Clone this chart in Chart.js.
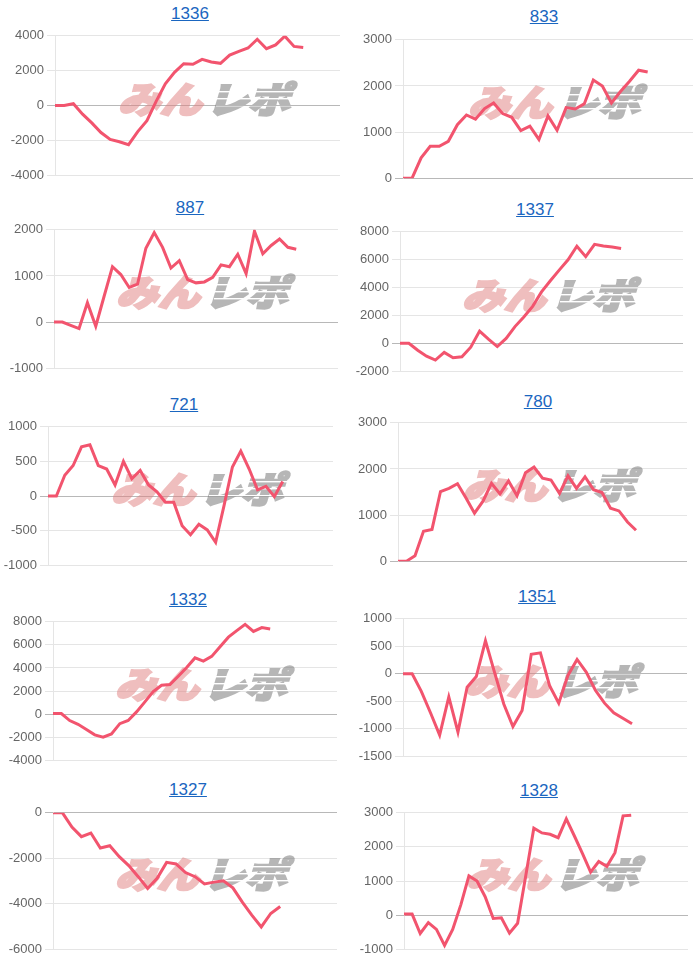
<!DOCTYPE html>
<html>
<head>
<meta charset="utf-8">
<script src="https://cdn.jsdelivr.net/npm/chart.js@4.4.1/dist/chart.umd.min.js"></script>
<style>
  body { margin: 0; background: #fff; width: 700px; height: 968px; overflow: hidden; position: relative;
         font-family: "Liberation Sans", Arial, sans-serif; }
  .ttl { position: absolute; transform: translate(-50%, -50%); color: #1a66c0; text-decoration: underline;
         font-size: 17px; white-space: nowrap; }
  canvas { position: absolute; }
</style>
</head>
<body>
<script>
const titles = ['1336', '833', '887', '1337', '721', '780', '1332', '1351', '1327', '1328'];

const s1336 = [0, 0, 100, -500, -1000, -1550, -1950, -2080, -2250, -1500, -870, 240, 1250, 1900, 2400, 2370, 2650, 2500, 2420, 2890, 3110, 3300, 3800, 3260, 3480, 3980, 3390, 3330];
const s833 = [0, 0, 440, 690, 690, 800, 1160, 1370, 1280, 1510, 1630, 1400, 1320, 1030, 1130, 840, 1350, 1040, 1530, 1500, 1610, 2130, 2000, 1630, 1880, 2100, 2340, 2300];
const s887 = [0, 0, -70, -140, 420, -90, 560, 1200, 1030, 750, 820, 1600, 1940, 1620, 1170, 1330, 920, 850, 870, 970, 1240, 1200, 1470, 1050, 1970, 1480, 1660, 1800, 1620, 1580];
const s1337 = [0, 0, -500, -920, -1200, -650, -1040, -970, -280, 880, 300, -230, 350, 1200, 1890, 2650, 3690, 4490, 5250, 5990, 6960, 6220, 7100, 6980, 6910, 6800];
const s721 = [0, 0, 300, 440, 710, 740, 440, 390, 160, 500, 250, 370, 160, 60, -90, -90, -430, -560, -410, -490, -670, -140, 420, 650, 390, 90, 140, -10, 210];
const s780 = [0, 0, 120, 650, 690, 1510, 1580, 1680, 1370, 1040, 1300, 1690, 1460, 1740, 1420, 1920, 2040, 1800, 1760, 1470, 1850, 1580, 1830, 1550, 1490, 1150, 1090, 850, 670];
const s1332 = [50, 50, -560, -890, -1330, -1800, -2000, -1720, -830, -560, 190, 1060, 1950, 2500, 2560, 3280, 4030, 4870, 4590, 5000, 5840, 6670, 7230, 7780, 7170, 7500, 7370];
const s1351 = [0, 0, -320, -710, -1115, -420, -1060, -245, -50, 600, 20, -550, -960, -670, 355, 380, -215, -535, -30, 260, 30, -300, -535, -710, -810, -910];
const s1327 = [0, 0, -630, -1050, -890, -1550, -1450, -1930, -2320, -2810, -3330, -2880, -2180, -2250, -2630, -2810, -3130, -3050, -2990, -3300, -3930, -4500, -5020, -4430, -4120];
const s1328 = [30, 30, -540, -220, -420, -890, -420, 300, 1150, 1000, 540, -100, -80, -530, -240, 1150, 2550, 2410, 2370, 2270, 2820, 2320, 1800, 1260, 1570, 1430, 1830, 2910, 2930];

const series = [s1336, s833, s887, s1337, s721, s780, s1332, s1351, s1327, s1328];

// y axis ticks
const yMin = [-4000, 0, -1000, -2000, -1000, 0, -4000, -1500, -6000, -1000];
const yMax = [4000, 3000, 2000, 8000, 1000, 3000, 8000, 1000, 0, 3000];
const yStep = [2000, 1000, 1000, 2000, 500, 1000, 2000, 500, 2000, 1000];

// number of x slots (days) on each chart
const labelCounts = [32, 33, 35, 33, 35, 35, 35, 32, 31, 36];

// placement: axis left, plot right, top grid, bottom grid, title x, title y
const boxes = [
  [55, 340, 33, 178, 190, 14],
  [403, 693, 37, 181, 544, 17],
  [54, 338, 227, 371, 190, 208],
  [400, 683, 229, 374, 535, 210],
  [48, 333, 424, 568, 184, 405],
  [398, 687, 420, 564, 538, 402],
  [53, 337, 619, 763, 188, 600],
  [403, 687, 616, 759, 537, 597],
  [53, 337, 810, 952, 188, 790],
  [404, 688, 810, 952, 539, 791]
];

// watermark drawn once off screen, then stamped semi transparent
let wmCanvas = null;
function getWatermark() {
  if (wmCanvas) return wmCanvas;
  const W = 200, H = 50;
  wmCanvas = document.createElement('canvas');
  wmCanvas.width = W; wmCanvas.height = H;
  const c = wmCanvas.getContext('2d');
  c.font = '900 36px "Noto Sans CJK JP"';
  c.textBaseline = 'middle';
  c.lineJoin = 'miter';
  const w1 = c.measureText('みん').width;
  const w2 = c.measureText('レポ').width;
  const gap = 4;
  const sx = 172 / (w1 + gap + w2);
  c.translate(W / 2, H / 2 + 1);
  c.transform(1, 0, -0.3, 1, 0, 0);
  c.scale(sx, 1);
  const x0 = -(w1 + gap + w2) / 2;
  c.lineWidth = 2.5;
  c.fillStyle = c.strokeStyle = '#e07f7f';
  c.fillText('みん', x0, 0);
  c.strokeText('みん', x0, 0);
  c.fillStyle = c.strokeStyle = '#6f6f6f';
  c.fillText('レポ', x0 + w1 + gap, 0);
  c.strokeText('レポ', x0 + w1 + gap, 0);
  // speed streaks through the katakana
  c.setTransform(1, 0, 0, 1, 0, 0);
  c.globalCompositeOperation = 'destination-out';
  c.fillStyle = '#000';
  [18, 25, 32].forEach(y => c.fillRect(108, y, 90, 1.4));
  return wmCanvas;
}

const watermark = {
  id: 'watermark',
  beforeDatasetsDraw(chart) {
    const { ctx, chartArea: a } = chart;
    const img = getWatermark();
    const cx = (a.left + a.right) / 2 + 10;
    const cy = (a.top + a.bottom) / 2 - 8;
    ctx.save();
    ctx.globalAlpha = 0.5;
    ctx.drawImage(img, Math.round(cx - img.width / 2), Math.round(cy - img.height / 2));
    ctx.restore();
  }
};

titles.forEach((t, i) => {
  const [axL, plotR, gTop, gBot, tx, ty] = boxes[i];
  const left = i % 2 === 0 ? 0 : 350;
  const a = document.createElement('a');
  a.className = 'ttl';
  a.textContent = t;
  a.style.left = tx + 'px';
  a.style.top = ty + 'px';
  document.body.appendChild(a);

  const cv = document.createElement('canvas');
  const w = plotR - left + 4;
  const h = gBot - gTop + 16;
  cv.width = w; cv.height = h;
  cv.style.left = left + 'px';
  cv.style.top = (gTop - 8) + 'px';
  cv.style.width = w + 'px';
  cv.style.height = h + 'px';
  document.body.appendChild(cv);

  const labels = Array.from({ length: labelCounts[i] }, (_, k) => String(k + 1));

  new Chart(cv, {
    type: 'line',
    data: {
      labels: labels,
      datasets: [{
        data: series[i],
        borderColor: '#f2546e',
        borderWidth: 3,
        pointRadius: 0,
        tension: 0,
        fill: false
      }]
    },
    options: {
      responsive: false,
      animation: false,
      layout: { padding: { top: 8, bottom: 8, left: 0, right: 4 } },
      plugins: { legend: { display: false }, tooltip: { enabled: false } },
      scales: {
        x: { display: false },
        y: {
          min: yMin[i],
          max: yMax[i],
          afterFit: s => { s.width = axL - left; },
          ticks: {
            stepSize: yStep[i],
            color: '#666',
            font: { family: '"Liberation Sans", Arial, sans-serif', size: 13 },
            callback: v => String(v)
          },
          grid: {
            color: c => (c.tick && c.tick.value === 0) ? 'rgba(0,0,0,0.28)' : 'rgba(0,0,0,0.1)'
          },
          border: { color: 'rgba(0,0,0,0.1)' }
        }
      }
    },
    plugins: [watermark]
  });
});
</script>
</body>
</html>
